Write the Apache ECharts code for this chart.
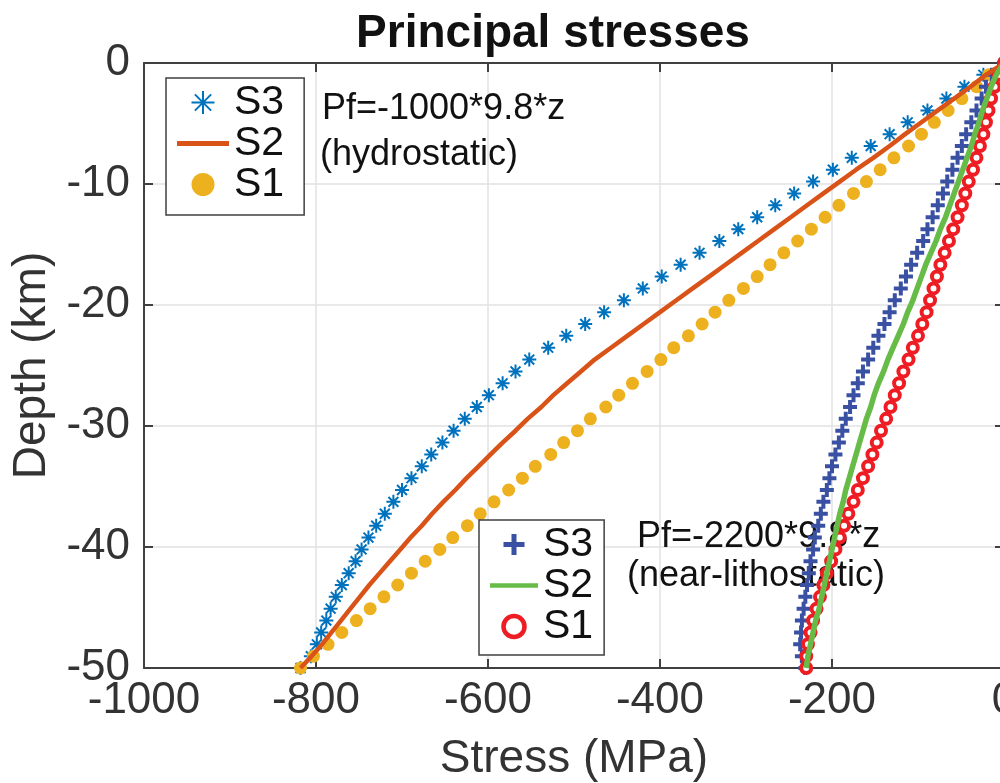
<!DOCTYPE html>
<html>
<head>
<meta charset="utf-8">
<title>Principal stresses</title>
<script src="https://cdn.jsdelivr.net/npm/echarts@6/dist/echarts.min.js"></script>
<style>
  html, body { margin: 0; padding: 0; background: #fff; }
  #chart { width: 1000px; height: 783px; }
</style>
</head>
<body>
<div id="chart"></div>
<script>
// depth samples (km), 52 points from 0 down to -50
const depth = [0, -0.98, -1.96, -2.94, -3.92, -4.9, -5.88, -6.86, -7.84, -8.82,
  -9.8, -10.78, -11.76, -12.75, -13.73, -14.71, -15.69, -16.67, -17.65, -18.63,
  -19.61, -20.59, -21.57, -22.55, -23.53, -24.51, -25.49, -26.47, -27.45, -28.43,
  -29.41, -30.39, -31.37, -32.35, -33.33, -34.31, -35.29, -36.27, -37.25, -38.24,
  -39.22, -40.2, -41.18, -42.16, -43.14, -44.12, -45.1, -46.08, -47.06, -48.04,
  -49.02, -50];

// Pf = -1000*9.8*z (hydrostatic), stresses in MPa
const hydroS3 = [0, -24, -46, -67, -89, -112, -133, -155, -177, -199,
  -222, -244, -266, -287, -309, -331, -354, -376, -398, -420,
  -442, -465, -487, -509, -530, -552, -568, -583, -599, -613,
  -627, -640, -653, -666, -677, -689, -700, -710, -720, -730,
  -739, -747, -754, -762, -770, -777, -783, -788, -794, -799,
  -806, -818];
const hydroS2 = [0, -21, -39, -58, -77, -96, -115, -133, -152, -172,
  -191, -210, -229, -248, -267, -286, -305, -324, -343, -362,
  -381, -400, -419, -438, -457, -476, -492, -508, -524, -538,
  -554, -568, -583, -597, -611, -625, -638, -652, -665, -677,
  -690, -702, -714, -726, -738, -749, -760, -771, -782, -793,
  -805, -818];
const hydroS1 = [0, -18, -32, -49, -65, -81, -96, -111, -128, -144,
  -160, -175, -192, -208, -224, -240, -256, -272, -287, -303,
  -320, -336, -351, -367, -384, -399, -415, -432, -448, -463,
  -481, -496, -512, -527, -545, -560, -576, -593, -609, -624,
  -641, -656, -673, -689, -705, -721, -737, -753, -770, -786,
  -803, -818];

// Pf = -2200*9.8*z (near-lithostatic)
const lithS3 = [0, -14, -21, -26, -32, -38, -44, -49, -54, -60,
  -66, -71, -77, -83, -89, -94, -101, -108, -114, -120,
  -127, -133, -139, -146, -152, -158, -164, -170, -175, -179,
  -184, -188, -192, -196, -200, -203, -206, -210, -213, -216,
  -220, -222, -225, -227, -229, -231, -233, -235, -236, -237,
  -235, -231];
const lithS2 = [0, -9, -15, -20, -25, -29, -34, -38, -43, -48,
  -53, -58, -63, -68, -74, -79, -85, -91, -96, -101,
  -106, -112, -117, -123, -129, -135, -140, -146, -151, -155,
  -160, -164, -168, -172, -176, -180, -184, -187, -191, -194,
  -197, -200, -203, -206, -209, -212, -215, -219, -222, -225,
  -228, -230];
const lithS1 = [0, -6, -11, -15, -18, -21, -24, -28, -32, -36,
  -41, -45, -49, -54, -59, -64, -69, -74, -78, -82,
  -86, -90, -95, -100, -106, -111, -117, -122, -127, -132,
  -137, -143, -148, -153, -158, -164, -170, -175, -181, -186,
  -191, -196, -201, -206, -210, -214, -218, -222, -225, -228,
  -230, -230];

const FONT = '"Liberation Sans", Arial, Helvetica, sans-serif';
const AXIS_COLOR = '#404040';
const TEXT_COLOR = '#333333';

const C_S3H = '#0072BD';
const C_S2H = '#D95319';
const C_S1H = '#EDB120';
const C_S3L = '#3A50A3';
const C_S2L = '#66BC46';
const C_S1L = '#EE1D23';

const ASTERISK = 'path://M0,-10V10M-10,0H10M-7.07,-7.07L7.07,7.07M-7.07,7.07L7.07,-7.07';
const PLUS = 'path://M0,-10V10M-10,0H10';
const BAR = 'path://M0,0H52V5H0Z';

const pairs = (vals) => vals.map((v, i) => [v, depth[i]]);

const chart = echarts.init(document.getElementById('chart'), null, { renderer: 'canvas' });

const boxAxis = (extra) => Object.assign({
  type: 'value',
  axisLine: { show: true, onZero: false, lineStyle: { color: AXIS_COLOR, width: 2 } },
  axisTick: { show: true, inside: true, length: 9, lineStyle: { color: AXIS_COLOR, width: 2 } },
  axisLabel: { show: false },
  splitLine: { show: false }
}, extra);

const legendText = {
  fontFamily: FONT, fontSize: 41, lineHeight: 38, color: '#111'
};

const option = {
  backgroundColor: '#fff',
  animation: false,
  title: {
    text: 'Principal stresses',
    left: 548,
    top: 6,
    textAlign: 'center',
    textStyle: { fontFamily: FONT, fontSize: 46, fontWeight: 'bold', color: '#111' }
  },
  grid: { left: 144, right: -4, top: 63, bottom: 115, outerBoundsMode: 'none', containLabel: false },
  xAxis: [
    boxAxis({
      position: 'bottom', min: -1000, max: 0, interval: 200,
      name: 'Stress (MPa)', nameLocation: 'middle', nameGap: 68,
      nameTextStyle: { fontFamily: FONT, fontSize: 46, color: TEXT_COLOR },
      axisLabel: { show: true, fontFamily: FONT, fontSize: 44, color: TEXT_COLOR, margin: 11,
        formatter: (v) => String(v) },
      splitLine: { show: true, lineStyle: { color: '#e2e2e2', width: 1.5 } }
    }),
    boxAxis({ position: 'top', min: -1000, max: 0, interval: 200 })
  ],
  yAxis: [
    boxAxis({
      position: 'left', min: -50, max: 0, interval: 10,
      name: 'Depth (km)', nameLocation: 'middle', nameGap: 78, nameRotate: 90,
      nameTextStyle: { fontFamily: FONT, fontSize: 46, color: TEXT_COLOR },
      axisLabel: { show: true, fontFamily: FONT, fontSize: 44, color: TEXT_COLOR, margin: 14,
        formatter: (v) => String(v) },
      splitLine: { show: true, lineStyle: { color: '#e2e2e2', width: 1.5 } }
    }),
    boxAxis({ position: 'right', min: -50, max: 0, interval: 10 })
  ],
  legend: [
    {
      // hydrostatic legend
      left: 166, top: 78, orient: 'vertical',
      padding: [4, 20, 10, 11], itemGap: 0, itemWidth: 52, itemHeight: 23,
      backgroundColor: '#fff', borderColor: '#404040', borderWidth: 1.5,
      selectedMode: false, textStyle: legendText,
      data: [
        { name: 'S3', icon: ASTERISK, itemStyle: { color: 'rgba(0,0,0,0)', borderColor: C_S3H, borderWidth: 2, opacity: 1 } },
        { name: 'S2', icon: BAR, itemStyle: { color: C_S2H, borderWidth: 0, opacity: 1 } },
        { name: 'S1', icon: 'circle', itemStyle: { color: C_S1H, borderWidth: 0, opacity: 1 } }
      ]
    },
    {
      // near-lithostatic legend
      left: 479, top: 520, orient: 'vertical',
      padding: [4, 11, 8, 11], itemGap: 0, itemWidth: 48, itemHeight: 21,
      backgroundColor: '#fff', borderColor: '#404040', borderWidth: 1.5,
      selectedMode: false, textStyle: legendText,
      formatter: (name) => name.split(' ')[0],
      data: [
        { name: 'S3 lith', icon: PLUS, itemStyle: { color: 'rgba(0,0,0,0)', borderColor: C_S3L, borderWidth: 5, opacity: 1 } },
        { name: 'S2 lith', icon: BAR, itemStyle: { color: C_S2L, borderWidth: 0, opacity: 1 } },
        { name: 'S1 lith', icon: 'circle', itemStyle: { color: '#fff', borderColor: C_S1L, borderWidth: 4.5, opacity: 1 } }
      ]
    }
  ],
  graphic: [
    { type: 'text', x: 322, y: 109, z: 1, style: { text: 'Pf=-1000*9.8*z', font: '36px ' + FONT, fill: '#111', verticalAlign: 'middle' } },
    { type: 'text', x: 320, y: 155, z: 1, style: { text: '(hydrostatic)', font: '36px ' + FONT, fill: '#111', verticalAlign: 'middle' } },
    { type: 'text', x: 637, y: 537, z: 1, style: { text: 'Pf=-2200*9.8*z', font: '36px ' + FONT, fill: '#111', verticalAlign: 'middle' } },
    { type: 'text', x: 627, y: 576, z: 1, style: { text: '(near-lithostatic)', font: '36px ' + FONT, fill: '#111', verticalAlign: 'middle' } }
  ],
  series: [
    {
      name: 'S3', type: 'scatter', data: pairs(hydroS3),
      symbol: ASTERISK, symbolSize: 14,
      itemStyle: { color: 'rgba(0,0,0,0)', borderColor: C_S3H, borderWidth: 2, opacity: 1 }
    },
    {
      name: 'S2', type: 'line', data: pairs(hydroS2),
      showSymbol: false, symbol: 'none', color: C_S2H,
      lineStyle: { color: C_S2H, width: 4.5 }
    },
    {
      name: 'S1', type: 'scatter', data: pairs(hydroS1),
      symbol: 'circle', symbolSize: 13,
      itemStyle: { color: C_S1H, opacity: 1 }
    },
    {
      name: 'S3 lith', type: 'scatter', data: pairs(lithS3),
      symbol: PLUS, symbolSize: 14,
      itemStyle: { color: 'rgba(0,0,0,0)', borderColor: C_S3L, borderWidth: 4, opacity: 1 }
    },
    {
      name: 'S2 lith', type: 'line', data: pairs(lithS2),
      showSymbol: false, symbol: 'none', color: C_S2L,
      lineStyle: { color: C_S2L, width: 5.5 }
    },
    {
      name: 'S1 lith', type: 'scatter', data: pairs(lithS1),
      symbol: 'circle', symbolSize: 10,
      itemStyle: { color: '#fff', borderColor: C_S1L, borderWidth: 4, opacity: 1 }
    }
  ]
};

chart.setOption(option);
</script>
</body>
</html>
